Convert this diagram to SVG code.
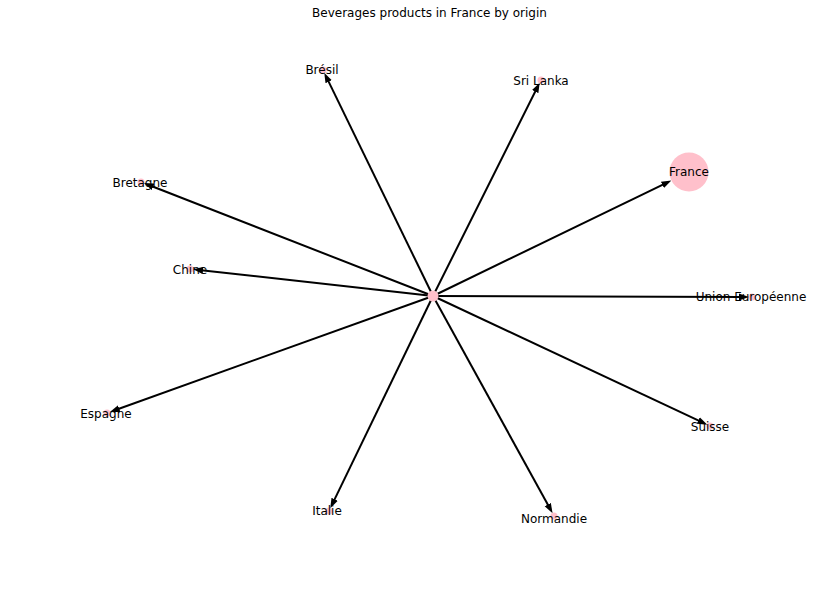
<svg xmlns="http://www.w3.org/2000/svg" width="830" height="590" viewBox="0 0 830 590">
<style>
.e{stroke:#000;stroke-width:2;fill:none;marker-end:url(#ah)}
.n{fill:#ffc0cb}
.t{font-family:"DejaVu Sans",sans-serif;font-size:12px;fill:#000;text-anchor:middle;dominant-baseline:central}
</style>
<defs>
<marker id="ah" markerUnits="userSpaceOnUse" markerWidth="10" markerHeight="8" refX="4" refY="4" orient="auto">
<path d="M0,0.5 L10,4 L0,7.5 z" fill="#000"/>
</marker>
</defs>
<rect width="830" height="590" fill="#fff"/>
<text class="t" x="429.5" y="13">Beverages products in France by origin</text>
<g id="edges">
<line class="e" x1="433" y1="296" x2="326.9" y2="78.1"/>
<line class="e" x1="433" y1="296" x2="537.0" y2="88.0"/>
<line class="e" x1="433" y1="296" x2="666.0" y2="183.1"/>
<line class="e" x1="433" y1="296" x2="743" y2="297"/>
<line class="e" x1="433" y1="296" x2="701.9" y2="422.2"/>
<line class="e" x1="433" y1="296" x2="549.7" y2="508.1"/>
<line class="e" x1="433" y1="296" x2="332.9" y2="502.9"/>
<line class="e" x1="433" y1="296" x2="115.5" y2="410.0"/>
<line class="e" x1="433" y1="296" x2="199.0" y2="270.0"/>
<line class="e" x1="433" y1="296" x2="149.4" y2="185.3"/>
</g>
<g id="center"><circle class="n" cx="433" cy="296" r="5.5"/></g>
<g id="bresil"><circle class="n" cx="323" cy="70" r="3.5"/><text class="t" x="322" y="70">Brésil</text></g>
<g id="srilanka"><circle class="n" cx="541" cy="80" r="3.5"/><text class="t" x="541" y="81">Sri Lanka</text></g>
<g id="france"><circle class="n" cx="689" cy="172" r="19.5"/><text class="t" x="689" y="172">France</text></g>
<g id="ue"><circle class="n" cx="752" cy="297" r="3.5"/><text class="t" x="751" y="297">Union Européenne</text></g>
<g id="suisse"><circle class="n" cx="710" cy="426" r="3.5"/><text class="t" x="710" y="427">Suisse</text></g>
<g id="normandie"><circle class="n" cx="554" cy="516" r="3.5"/><text class="t" x="554" y="519">Normandie</text></g>
<g id="italie"><circle class="n" cx="329" cy="511" r="3.5"/><text class="t" x="327" y="511">Italie</text></g>
<g id="espagne"><circle class="n" cx="107" cy="413" r="3.5"/><text class="t" x="106" y="414">Espagne</text></g>
<g id="chine"><circle class="n" cx="190" cy="269" r="3.5"/><text class="t" x="190" y="270">Chine</text></g>
<g id="bretagne"><circle class="n" cx="141" cy="182" r="3.5"/><text class="t" x="140" y="183">Bretagne</text></g>
</svg>
